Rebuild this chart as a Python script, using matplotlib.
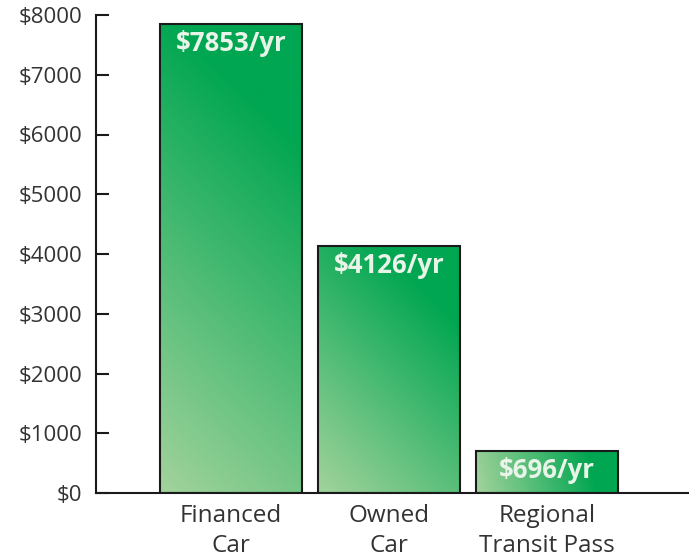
import matplotlib
matplotlib.use("Agg")
import matplotlib.pyplot as plt
import numpy as np
from matplotlib.colors import to_rgb

categories = ["Financed\nCar", "Owned\nCar", "Regional\nTransit Pass"]
values = [7853, 4126, 696]
bar_labels = ["$7853/yr", "$4126/yr", "$696/yr"]
yticks = [0, 1000, 2000, 3000, 4000, 5000, 6000, 7000, 8000]
ytick_labels = ["$0", "$1000", "$2000", "$3000", "$4000", "$5000", "$6000", "$7000", "$8000"]

plt.rcParams['font.family'] = ['Open Sans', 'DejaVu Sans']

fig = plt.figure(figsize=(6.89, 5.6), dpi=100)
ax = fig.add_axes([96/689, 67/560, 1 - 96/689, 478/560])
ax.set_xlim(-0.854, 2.9)
ax.set_ylim(0, 8000)

x = np.arange(len(values))
width = 0.9
bars = ax.bar(x, values, width=width, color='none', edgecolor='#1a1a1a', linewidth=1.5, zorder=3)

dark = np.array(to_rgb('#00a651'))
light = np.array(to_rgb('#a3d39c'))

for b in bars:
    x0, y0 = b.get_x(), b.get_y()
    w, h = b.get_width(), b.get_height()
    (px0, py0), (px1, py1) = ax.transData.transform([(x0, y0), (x0 + w, y0 + h)])
    W, H = px1 - px0, py1 - py0
    nx, ny = 120, max(int(H), 10)
    xs = np.linspace(0, W, nx)[None, :]
    ys = np.linspace(0, H, ny)[:, None]
    proj = (xs * W + ys * H) / (W * W + H * H)
    s = 0.15 * (xs / W) + 0.85 * proj
    t = np.clip(s / 0.8, 0, 1)
    img = light[None, None, :] * (1 - t[..., None]) + dark[None, None, :] * t[..., None]
    im = ax.imshow(img, extent=[x0, x0 + w, y0, y0 + h], origin='lower',
                   aspect='auto', zorder=2, interpolation='bilinear')
    im.set_clip_path(b)

for xi, val, lab in zip(x, values, bar_labels):
    ax.annotate(lab, (xi, val), xytext=(0, -14), textcoords='offset points',
                ha='center', va='center', color='#e9f4e9',
                fontsize=18.5, fontweight='bold', zorder=4)

ax.set_yticks(yticks)
ax.set_yticklabels(ytick_labels, fontsize=16, color='#333333')
ax.set_xticks(x)
ax.set_xticklabels(categories, fontsize=17.5, color='#333333', linespacing=1.3)
ax.tick_params(axis='x', length=0, pad=8)
ax.tick_params(axis='y', direction='in', length=9, width=1.5, pad=10, color='#1a1a1a')
ax.spines['top'].set_visible(False)
ax.spines['right'].set_visible(False)
ax.spines['left'].set_linewidth(1.5)
ax.spines['bottom'].set_linewidth(1.5)
ax.spines['left'].set_color('#1a1a1a')
ax.spines['bottom'].set_color('#1a1a1a')

fig.savefig("out.png", dpi=100)
